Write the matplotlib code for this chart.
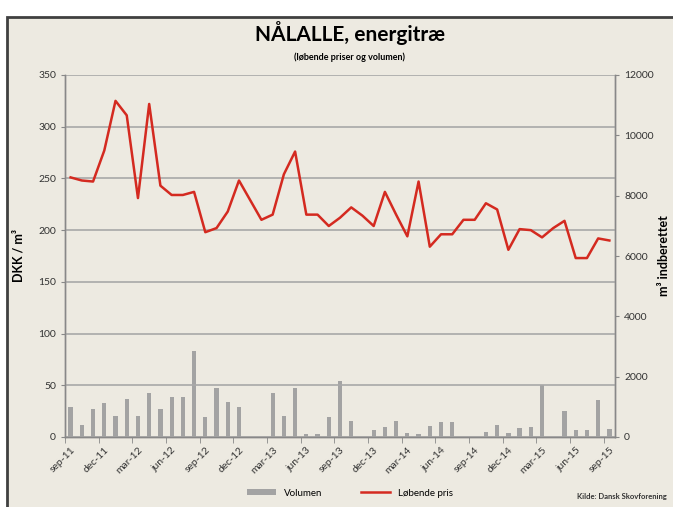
import matplotlib.pyplot as plt
from matplotlib.patches import Rectangle, Patch
from matplotlib.lines import Line2D
import numpy as np

plt.rcParams['font.family'] = ['Lato', 'DejaVu Sans']

# monthly, sep-11 .. sep-15
tick_labels = ['sep-11', 'dec-11', 'mar-12', 'jun-12', 'sep-12', 'dec-12', 'mar-13',
               'jun-13', 'sep-13', 'dec-13', 'mar-14', 'jun-14', 'sep-14', 'dec-14',
               'mar-15', 'jun-15', 'sep-15']

# løbende pris, DKK / m3
pris = [251, 248, 247, 277, 325, 311, 231, 322, 243, 234, 234, 237, 198, 202, 218, 248,
        229, 210, 215, 254, 276, 215, 215, 204, 212, 222, 214, 204, 237, 215, 194, 247,
        184, 196, 196, 210, 210, 226, 220, 181, 201, 200, 193, 202, 209, 173, 173, 192, 190]

# volumen, m3 indberettet
volumen = [1005, 400, 930, 1140, 710, 1250, 710, 1450, 930, 1340, 1340, 2860, 650, 1610, 1170, 1005,
           0, 0, 1450, 710, 1610, 100, 100, 650, 1870, 540, 0, 230, 320, 540, 145, 100,
           365, 510, 510, 0, 0, 175, 400, 145, 310, 340, 1720, 0, 860, 230, 230, 1230, 255]

x = np.arange(len(pris))

fig = plt.figure(figsize=(6.73, 5.07), dpi=100)
fig.patch.set_facecolor('white')
fig.patches.append(Rectangle((7 / 673, -0.01), 1.0, 1.0 - 12 / 507,
                             transform=fig.transFigure, facecolor='#EDEAE1',
                             edgecolor='#404040', linewidth=2, zorder=-10))

ax = fig.add_axes([65 / 673, 70 / 507, 550 / 673, 362 / 507])
ax2 = ax.twinx()
ax.set_zorder(ax2.get_zorder() + 1)
ax.patch.set_visible(False)
ax2.patch.set_facecolor('white')

ax2.bar(x, volumen, width=0.38, color='#A3A3A3', zorder=2)
ax.plot(x, pris, color='#D42A20', linewidth=1.8, zorder=3)

ax.set_xlim(-0.5, len(pris) - 0.5)
ax.set_ylim(0, 350)
ax2.set_ylim(0, 12000)
ax.set_yticks(range(0, 351, 50))
ax2.set_yticks(range(0, 12001, 2000))
ax.grid(axis='y', color='#A8A8A8', linewidth=1.2)
ax.set_axisbelow(True)

ax.set_xticks(x[::3])
ax.set_xticklabels(tick_labels, rotation=45, ha='right', rotation_mode='anchor',
                   fontsize=7.5, color='#333333')
ax.set_xticks(np.arange(-0.5, len(pris), 3), minor=True)
ax.tick_params(axis='x', which='major', length=0, pad=6)
ax.tick_params(axis='x', which='minor', length=4, color='#888888')
ax.tick_params(axis='y', labelsize=7.5, labelcolor='#333333', length=3, color='#888888')
ax2.tick_params(axis='y', labelsize=7.5, labelcolor='#333333', length=3, color='#888888')

for a in (ax, ax2):
    a.spines['top'].set_visible(False)
    for s in ('left', 'right', 'bottom'):
        a.spines[s].set_color('#888888')
        a.spines[s].set_linewidth(1)

ax.set_ylabel('DKK / m³', fontsize=9, fontweight='bold', labelpad=10)
ax2.set_ylabel('m³ indberettet', fontsize=9, fontweight='bold', labelpad=3)

fig.text(0.52, 1 - 33 / 507, 'NÅLALLE, energitræ', ha='center', va='center',
         fontsize=15, fontweight='bold')
fig.text(0.52, 1 - 57 / 507, '(løbende priser og volumen)', ha='center', va='center',
         fontsize=6.5, fontweight='bold')

handles = [Patch(facecolor='#A3A3A3', edgecolor='none'),
           Line2D([0], [0], color='#D42A20', linewidth=1.8)]
fig.legend(handles, ['Volumen', 'Løbende pris'], loc='center', ncol=2,
           bbox_to_anchor=(0.52, 14 / 507), frameon=False, fontsize=7,
           handlelength=3, handleheight=0.5, columnspacing=4)

fig.text(0.99, 10 / 507, 'Kilde: Dansk Skovforening', ha='right', va='center',
         fontsize=5.5, fontweight='bold', color='#333333')

fig.savefig('out.png', dpi=100)
